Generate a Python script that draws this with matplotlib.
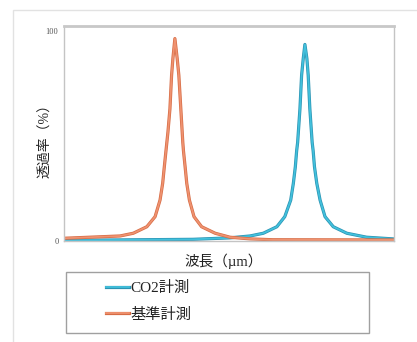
import matplotlib
matplotlib.use("Agg")
import matplotlib.pyplot as plt
import matplotlib.patheffects as pe
from matplotlib.patches import Rectangle

# Data (wavelength in arbitrary units 0-100, transmittance %)
ref_wl = [0.0, 10.9, 17.0, 21.0, 25.1, 27.6, 29.1, 29.9, 30.4, 30.9, 31.5, 32.1, 32.6, 33.0, 33.6,
          34.3, 34.8, 35.4, 36.0, 36.2, 36.7, 37.2, 38.0, 39.4, 41.7, 45.8, 50.3, 56.4, 63.3, 100.0]
ref_tr = [1.3, 2.0, 2.4, 3.7, 6.8, 11.6, 19.5, 27.5, 35.4, 43, 52, 63, 79, 87, 96.5,
          87, 79, 63, 47, 43, 35.4, 27.5, 19.5, 11.6, 6.8, 3.7, 1.8, 1.0, 0.6, 0.5]
co2_wl = [0.0, 39.1, 50.3, 56.4, 60.4, 64.5, 66.9, 68.7, 69.5, 70.1, 70.5, 70.8, 71.5, 72.0, 72.5, 73.0,
          73.6, 74.0, 74.5, 75.2, 75.5, 75.9, 76.6, 77.6, 79.1, 81.6, 85.7, 91.7, 99.7]
co2_tr = [0.3, 0.8, 1.5, 2.4, 3.7, 6.8, 11.6, 19.5, 27.5, 35.4, 43, 47, 63, 79, 87, 93.7,
          87, 79, 63, 47, 43, 35.4, 27.5, 19.5, 11.6, 6.8, 3.7, 1.8, 1.0]
series_labels = ["CO2計測", "基準計測"]
ytick_vals = [0, 100]
ytick_labels = ["0", "100"]

W, H = 417, 342
fig = plt.figure(figsize=(W / 100, H / 100), dpi=100)
fig.patch.set_facecolor("white")

# outer frame
fig.patches.append(Rectangle((13 / W, -0.01), 1.0, 1 - 10 / H + 0.01, transform=fig.transFigure,
                             fill=False, edgecolor="#e2e2e2", lw=1.0))

ax = fig.add_axes([64 / W, (H - 241) / H, 330 / W, 215 / H])
cjk = ["Liberation Serif", "Noto Sans CJK JP"]

l1, = ax.plot(co2_wl, co2_tr, color="#42c0dc", lw=1.3, solid_joinstyle="round",
              path_effects=[pe.Stroke(linewidth=2.3, foreground="#2b93b2"), pe.Normal()],
              label=series_labels[0])
l2, = ax.plot(ref_wl, ref_tr, color="#ef9270", lw=1.3, solid_joinstyle="round",
              path_effects=[pe.Stroke(linewidth=2.3, foreground="#d66c45"), pe.Normal()],
              label=series_labels[1])

ax.set_xlim(0, 100)
ax.set_ylim(0, 102.5)
ax.set_xticks([])
ax.set_yticks(ytick_vals)
ax.set_yticklabels(ytick_labels, fontsize=6, color="#555555", family="Liberation Serif")
ax.tick_params(axis="y", length=0, pad=4)

for s in ["left", "bottom", "right"]:
    ax.spines[s].set_color("#c4c4c4")
    ax.spines[s].set_linewidth(1.0)
ax.spines["top"].set_color("#c8c8c8")
ax.spines["top"].set_linewidth(2.0)

ax.set_ylabel("透過率（%）", family=cjk, fontsize=10, color="#222222")
ax.yaxis.set_label_coords((51 - 64) / 330, 0.48)
ax.set_xlabel("波長（µm）", family=cjk, fontsize=10.5, color="#222222")
ax.xaxis.set_label_coords(0.485, -0.056)

# legend box
fig.patches.append(Rectangle((66 / W, (H - 333) / H), 303 / W, 61 / H, transform=fig.transFigure,
                             fill=False, edgecolor="#a0a0a0", lw=1.0))
leg = fig.legend(handles=[l1, l2], labels=series_labels, loc="upper left",
                 bbox_to_anchor=(106 / W, (H - 281) / H), frameon=False,
                 borderpad=0, borderaxespad=0, handlelength=1.5, handletextpad=0.1,
                 labelspacing=0.83, prop={"family": cjk, "size": 11})
for t in leg.get_texts():
    t.set_color("#222222")

fig.savefig("out.png", dpi=100)
